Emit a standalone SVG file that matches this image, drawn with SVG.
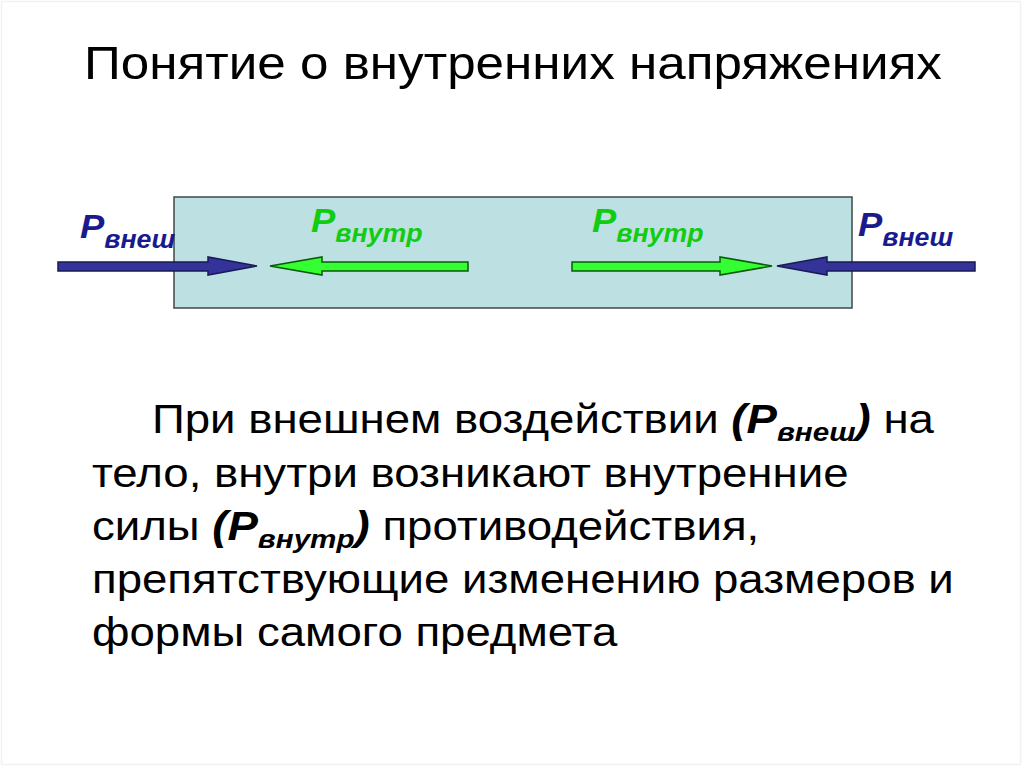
<svg xmlns="http://www.w3.org/2000/svg" width="1024" height="767" viewBox="0 0 1024 767">
<style>
.t{font-family:"Liberation Sans",Arial,sans-serif;fill:#000}
.bi{font-family:"Liberation Sans",Arial,sans-serif;font-weight:bold;font-style:italic}
.blue{fill:#1a1a8f}
.green{fill:#12cc12}
.ab{fill:#333399;stroke:#1a1a55;stroke-width:1.5}
.ag{fill:#33ff33;stroke:#0a5a0a;stroke-width:1.5}
</style>
<rect x="0" y="0" width="1024" height="767" fill="#fff"/>
<rect x="1.5" y="1.5" width="1019" height="763" fill="none" stroke="#f2f2f2" stroke-width="1.5"/>
<g id="title" transform="translate(84,0) scale(1.113,1) translate(-84,0)"><text class="t" x="84" y="79" font-size="46">Понятие о внутренних напряжениях</text></g>
<g id="body">
<rect x="174" y="197" width="678" height="111" fill="#bde0e3" stroke="#404848" stroke-width="1.5"/>
</g>
<g id="connectors">
<polygon class="ab" points="58,262 208,262 208,257 257,266 208,275 208,271 58,271"/>
<polygon class="ag" points="468,262 322,262 322,257 270,266 322,275 322,271 468,271"/>
<polygon class="ag" points="572,262 720,262 720,257 772,266 720,275 720,271 572,271"/>
<polygon class="ab" points="975,262 827,262 827,257 777,266 827,275 827,271 975,271"/>
</g>
<g id="label-ext-left" transform="translate(80,0) scale(1.07,1) translate(-80,0)"><text class="bi blue" x="80" y="238" font-size="34">P<tspan font-size="25" dy="10">внеш</tspan></text></g>
<g id="label-int-left" transform="translate(311,0) scale(1.07,1) translate(-311,0)"><text class="bi green" x="311" y="232" font-size="34">P<tspan font-size="25" dy="10">внутр</tspan></text></g>
<g id="label-int-right" transform="translate(592,0) scale(1.07,1) translate(-592,0)"><text class="bi green" x="592" y="232" font-size="34">P<tspan font-size="25" dy="10">внутр</tspan></text></g>
<g id="label-ext-right" transform="translate(858,0) scale(1.07,1) translate(-858,0)"><text class="bi blue" x="858" y="236" font-size="34">P<tspan font-size="25" dy="10">внеш</tspan></text></g>
<g id="text" class="t" font-size="40" transform="translate(92,0) scale(1.14,1) translate(-92,0)">
<text class="t" x="144.6" y="433">При внешнем воздействии <tspan class="bi">(P</tspan><tspan class="bi" font-size="26" dy="8">внеш</tspan><tspan class="bi" dy="-8">)</tspan> на</text>
<text class="t" x="92" y="487">тело, внутри возникают внутренние</text>
<text class="t" x="92" y="540">силы <tspan class="bi">(P</tspan><tspan class="bi" font-size="26" dy="8">внутр</tspan><tspan class="bi" dy="-8">)</tspan> противодействия,</text>
<text class="t" x="92" y="593">препятствующие изменению размеров и</text>
<text class="t" x="92" y="646">формы самого предмета</text>
</g>
</svg>
